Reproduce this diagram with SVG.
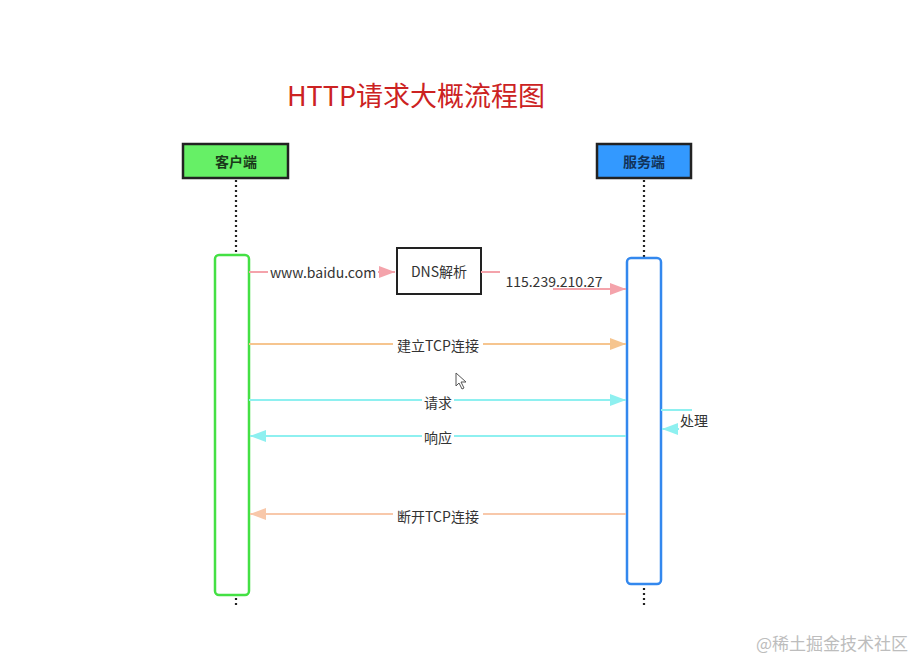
<svg xmlns="http://www.w3.org/2000/svg" width="919" height="661" viewBox="0 0 919 661">
<style>
.t{font-family:"Noto Sans CJK SC","Liberation Sans",sans-serif;font-size:14px;fill:#333;text-anchor:middle;dominant-baseline:central}
.hdr{font-family:"Noto Sans CJK SC","Liberation Sans",sans-serif;font-size:14px;font-weight:bold;fill:#1a3a1a;text-anchor:middle;dominant-baseline:central}
.life{stroke:#222;stroke-width:2.2;stroke-dasharray:2 3;fill:none}
.ln{fill:none;stroke-width:2}
.bg{fill:#fff}
</style>
<defs>
<marker id="mPink" markerWidth="16" markerHeight="12" refX="16" refY="6" orient="auto" markerUnits="userSpaceOnUse"><path d="M0,0 L16,6 L0,12 Z" fill="#f4a3ab"/></marker>
<marker id="mOrange" markerWidth="16" markerHeight="12" refX="16" refY="6" orient="auto" markerUnits="userSpaceOnUse"><path d="M0,0 L16,6 L0,12 Z" fill="#f6c58f"/></marker>
<marker id="mCyan" markerWidth="16" markerHeight="12" refX="16" refY="6" orient="auto" markerUnits="userSpaceOnUse"><path d="M0,0 L16,6 L0,12 Z" fill="#8ef0f0"/></marker>
<marker id="mPeach" markerWidth="16" markerHeight="12" refX="16" refY="6" orient="auto" markerUnits="userSpaceOnUse"><path d="M0,0 L16,6 L0,12 Z" fill="#f8c8aa"/></marker>
</defs>
<rect width="919" height="661" fill="#fff"/>
<text x="416" y="94" font-family="'Noto Sans CJK SC','Liberation Sans',sans-serif" font-size="27" fill="#cc2222" text-anchor="middle" dominant-baseline="central">HTTP请求大概流程图</text>

<g id="client">
<rect x="183" y="144" width="105" height="34" fill="#66f066" stroke="#222" stroke-width="2.5"/>
<text class="hdr" x="236" y="161">客户端</text>
<path class="life" d="M236,180 V253"/>
<rect x="215" y="255" width="34" height="340" rx="4" fill="#fff" stroke="#44e044" stroke-width="2.5"/>
<path class="life" d="M236,598 V607"/>
</g>

<g id="server">
<rect x="597" y="144" width="94" height="34" fill="#3399ff" stroke="#222" stroke-width="2.5"/>
<text class="hdr" x="644" y="161" fill="#113366" style="fill:#12335a">服务端</text>
<path class="life" d="M644,180 V257"/>
<rect x="627" y="258" width="34" height="326" rx="4" fill="#fff" stroke="#3388ee" stroke-width="2.5"/>
<path class="life" d="M644,588 V607"/>
</g>

<g id="dns">
<rect x="397" y="248" width="84" height="46" fill="#fff" stroke="#222" stroke-width="2"/>
<text class="t" x="439" y="271">DNS解析</text>
</g>

<g id="connectors">
<path class="ln" d="M249,272 H395" stroke="#f4a3ab" marker-end="url(#mPink)"/>
<rect class="bg" x="268" y="263" width="110" height="18"/>
<text class="t" x="323" y="272">www.baidu.com</text>

<path class="ln" d="M481,272 H500" stroke="#f4a3ab"/>
<path class="ln" d="M553,289 H626" stroke="#f4a3ab" stroke-width="1.5" marker-end="url(#mPink)"/>
<text class="t" x="554" y="281">115.239.210.27</text>

<path class="ln" d="M249,344 H626" stroke="#f6c58f" marker-end="url(#mOrange)"/>
<rect class="bg" x="393" y="336" width="90" height="18"/>
<text class="t" x="438" y="345">建立TCP连接</text>

<path class="ln" d="M249,400 H626" stroke="#8ef0f0" marker-end="url(#mCyan)"/>
<rect class="bg" x="422" y="393" width="32" height="18"/>
<text class="t" x="438" y="402">请求</text>

<path class="ln" d="M626,436 H250" stroke="#8ef0f0" marker-end="url(#mCyan)"/>
<rect class="bg" x="422" y="429" width="32" height="18"/>
<text class="t" x="438" y="437">响应</text>

<path class="ln" d="M661,410 H692" stroke="#8ef0f0"/>
<path class="ln" d="M679,429 H662" stroke="#8ef0f0" marker-end="url(#mCyan)"/>
<text class="t" x="694" y="420">处理</text>

<path class="ln" d="M626,514 H250" stroke="#f8c8aa" marker-end="url(#mPeach)"/>
<rect class="bg" x="393" y="507" width="90" height="18"/>
<text class="t" x="438" y="516">断开TCP连接</text>
</g>

<path d="M456,373 L456,386 L459,383 L462,389 L464,388 L461,382 L466,382 Z" fill="#fff" stroke="#555" stroke-width="1"/>

<text x="832" y="642" font-family="'Noto Sans CJK SC','Liberation Sans',sans-serif" font-size="17" fill="#bdbdbd" text-anchor="middle" dominant-baseline="central">@稀土掘金技术社区</text>
</svg>
